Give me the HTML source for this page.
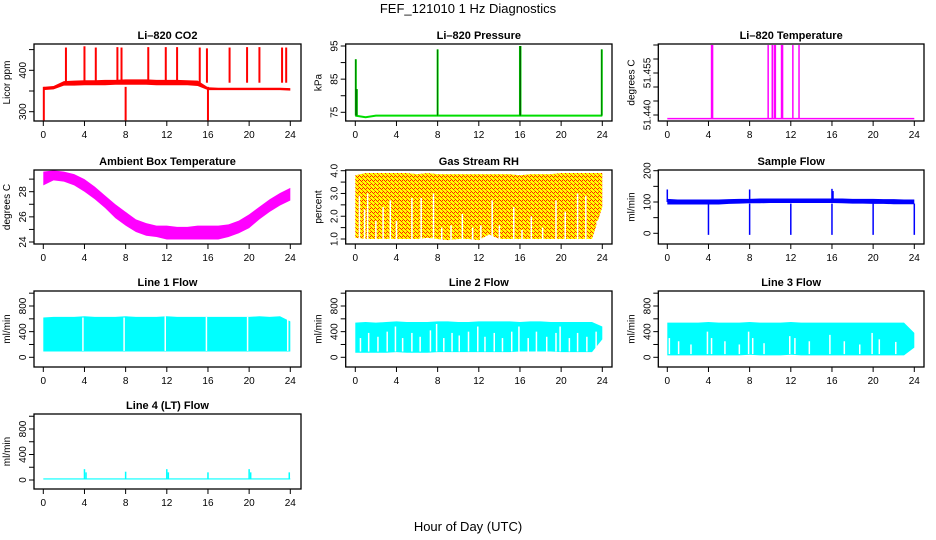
<!DOCTYPE html>
<html><head><meta charset="utf-8"><style>
body{margin:0;background:#fff}
svg{display:block;font-family:"Liberation Sans",sans-serif}
</style></head><body>
<svg id="c" width="936" height="540" viewBox="0 0 936 540">
<defs>
<pattern id="rh" width="4" height="4" patternUnits="userSpaceOnUse">
<rect width="4" height="4" fill="#ffff00"/>
<rect x="0" y="0" width="1" height="1" fill="#ff2000"/>
<rect x="2" y="0" width="1" height="1" fill="#ff2000"/>
<rect x="1" y="1" width="1" height="1" fill="#ff2000"/>
<rect x="3" y="3" width="1" height="1" fill="#ff2000"/>
<rect x="2" y="2" width="1" height="1" fill="#ff8000"/>
</pattern>
</defs>
<text x="468" y="13" font-size="13" text-anchor="middle">FEF_121010  1 Hz Diagnostics</text>
<text x="468" y="531" font-size="13" text-anchor="middle">Hour of Day (UTC)</text>
</svg>
<script>
// ---- data ----
const hours = [0,1,2,3,4,5,6,7,8,9,10,11,12,13,14,15,16,17,18,19,20,21,22,23,24];
const xTicks = [0,4,8,12,16,20,24];
const co2Lo = [352,354,363,363,364,364,364,365,365,365,365,364,364,364,364,362,352,352,352,352,352,352,352,352,351];
const co2Hi = [360,362,374,375,376,376,377,377,378,378,378,377,377,377,376,375,359,358,358,358,358,358,358,358,357];
const co2SpikeH = [2.2,4.0,5.1,7.2,7.6,10.2,11.9,13.0,15.2,15.9,18.1,19.8,21.0,23.2,23.6];
const co2SpikeV = [455,458,455,456,455,456,456,456,455,453,455,456,456,455,455];
const co2DipH = [0.05,8.0,16.0];
const co2DipV = [279,279,279];
const presBase = [74,73.5,74,74,74,74,74,74,74,74,74,74,74,74,74,74,74,74,74,74,74,74,74,74,74];
const presSpikeH = [0.05,0.15,8.0,16.0,16.05,23.95];
const presSpikeV = [91,82,94,95,95,94];
const tempBase = 51.4387;
const tempSpikeH = [4.3,4.4,9.8,10.2,10.4,10.5,11.1,11.2,12.2,12.8];
const tempSpikeV = [51.465,51.465,51.465,51.465,51.465,51.465,51.465,51.465,51.465,51.465];
const ambLo = [28.5,28.9,28.8,28.5,28.0,27.4,26.7,25.9,25.3,24.8,24.5,24.4,24.2,24.2,24.2,24.2,24.2,24.2,24.4,24.7,25.1,25.8,26.4,26.9,27.3];
const ambHi = [29.6,29.7,29.6,29.4,29.0,28.4,27.7,27.0,26.4,25.8,25.5,25.3,25.3,25.2,25.2,25.3,25.3,25.3,25.4,25.7,26.2,26.8,27.4,27.9,28.3];
const rhLo = [1.05,1.0,1.0,1.0,1.0,1.0,1.0,1.05,1.0,0.95,1.0,1.0,0.95,1.2,1.0,1.0,1.0,1.0,1.0,1.0,1.0,1.0,1.0,1.0,2.4];
const rhHi = [3.8,3.9,3.9,3.9,3.9,3.9,3.85,3.9,3.85,3.85,3.85,3.85,3.85,3.85,3.85,3.85,3.8,3.85,3.85,3.85,3.9,3.9,3.9,3.9,3.9];
const rhGapH = [0.4,0.9,1.2,2.0,2.7,3.4,4.0,5.5,6.4,7.6,8.4,9.3,10.4,11.4,12.2,13.3,14.0,15.4,16.2,17.1,18.2,19.5,20.4,21.6,22.4,23.5];
const rhGapV = [2.9,2.3,3.0,1.8,2.4,2.7,1.8,2.8,2.8,3.0,1.5,1.6,2.1,1.5,1.6,2.7,1.6,2.4,1.4,2.0,1.5,2.7,2.2,3.0,2.9,1.8];
const sfLo = [92,92,92,92,92,92,94,95,96,96,97,97,97,97,97,97,97,96,95,95,94,94,93,93,93];
const sfHi = [110,108,108,108,108,108,109,110,110,111,111,111,111,111,111,111,111,111,110,110,110,109,109,108,108];
const sfSpikeH = [0.0,8.0,16.0,16.1];
const sfSpikeV = [140,140,142,135];
const sfDipH = [4.0,8.0,12.0,16.0,20.0,24.0];
const sfDipV = [-5,-5,-5,-5,-5,-5];
const l1Lo = [90,90,90,90,90,90,90,90,90,90,90,90,90,90,90,90,90,90,90,90,90,90,90,90,90];
const l1Hi = [620,630,630,630,640,630,630,630,640,630,630,630,640,630,630,630,630,630,630,630,630,640,630,640,560];
const l1GapH = [3.85,7.85,11.85,15.85,19.85,23.75];
const l1GapV = [620,620,640,630,630,640];
const l2Lo = [70,70,70,70,80,70,70,70,80,80,80,80,80,80,80,80,90,90,90,90,80,80,80,80,280];
const l2Hi = [540,550,540,550,560,550,550,550,560,560,550,550,560,560,560,560,550,560,560,550,550,550,550,550,480];
const l2GapH = [0.5,1.3,2.2,3.1,3.9,4.6,5.5,6.3,7.3,7.9,8.6,9.4,10.1,11.0,11.9,12.6,13.5,14.3,15.2,15.9,16.8,17.6,18.6,19.5,19.9,20.8,21.6,22.5,23.4];
const l2GapV = [300,380,320,400,480,300,380,320,420,520,300,380,340,400,480,320,380,300,400,480,300,400,320,380,480,300,380,320,400];
const l3Lo = [30,30,30,30,30,30,30,30,40,30,30,30,40,30,30,30,30,30,30,30,30,30,30,30,150];
const l3Hi = [540,540,540,540,550,540,540,540,550,540,540,540,550,540,540,540,540,540,540,540,540,540,540,540,380];
const l3GapH = [0.2,1.1,2.3,3.9,4.3,5.6,7.0,7.9,8.3,9.4,11.9,12.4,13.8,15.8,17.2,18.7,19.9,20.6,22.2];
const l3GapV = [300,250,200,400,300,250,200,400,300,220,330,300,250,350,250,200,380,280,240];
const l4Lo = [8,8,8,8,8,8,8,8,8,8,8,8,8,8,8,8,8,8,8,8,8,8,8,8,8];
const l4Hi = [25,25,25,25,25,25,25,25,25,25,25,25,25,25,25,25,25,25,25,25,25,25,25,25,25];
const l4SpikeH = [4.0,4.15,8.0,12.0,12.15,16.0,20.0,20.15,23.9];
const l4SpikeV = [170,120,130,170,120,120,170,120,120];

// ---- layout ----
const NS = "http://www.w3.org/2000/svg";
const svg = document.getElementById("c");
const cols = [{l:34,r:301,x0:43.3},{l:345.7,r:612,x0:355.3},{l:658.3,r:924,x0:667.3}];
const rows = [{t:44,b:121},{t:170,b:244},{t:291,b:367},{t:414,b:489}];
const HPX = 247/24;
function mk(tag, attrs, parent){
  const e = document.createElementNS(NS, tag);
  for (const k in attrs) e.setAttribute(k, attrs[k]);
  (parent||svg).appendChild(e); return e;
}
function panel(name, title, ylab, ci, ri, yA, vA, yB, vB, ticks, labels){
  const c = cols[ci], r = rows[ri];
  const g = mk("g", {});
  
  
  const xs = h => c.x0 + h*HPX;
  const ys = v => yA + (v - vA)*(yB - yA)/(vB - vA);
  const plot = mk("g", {}, g);
  
  
  const frame = mk("rect", {x:c.l, y:r.t, width:c.r-c.l, height:r.b-r.t, fill:"none", stroke:"#000", "stroke-width":1.3}, g);
  
  
  const t = mk("text", {x:(c.l+c.r)/2, y:r.t-5, "font-size":11, "font-weight":"bold", "text-anchor":"middle"}, g);
  t.textContent = title;
  
  
  const yl = mk("text", {transform:`translate(${c.l-24},${(r.t+r.b)/2}) rotate(-90)`, "font-size":10, "text-anchor":"middle"}, g);
  yl.textContent = ylab;
  
  
  mk("line", {x1:xs(0), x2:xs(24), y1:r.b, y2:r.b, stroke:"#000"}, g);
  xTicks.forEach(h => {
    mk("line", {x1:xs(h), x2:xs(h), y1:r.b, y2:r.b+5, stroke:"#000"}, g);
    const tl = mk("text", {x:xs(h), y:r.b+17, "font-size":10, "text-anchor":"middle"}, g);
    tl.textContent = h;
    
    
  });
  ticks.forEach(v => {
    mk("line", {x1:c.l-5, x2:c.l, y1:ys(v), y2:ys(v), stroke:"#000"}, g);
  });
  labels.forEach(([v, s]) => {
    const tl = mk("text", {transform:`translate(${c.l-8},${ys(v)}) rotate(-90)`, "font-size":10, "text-anchor":"middle"}, g);
    tl.textContent = s;
    
    
  });
  return {xs, ys, g:plot};
}
function band(p, lo, hi, fill){
  let pts = hours.map((h,i) => `${p.xs(h)},${p.ys(hi[i])}`);
  pts = pts.concat(hours.slice().reverse().map((h,j) => { const i = hours.length-1-j; return `${p.xs(h)},${p.ys(lo[i])}`; }));
  const e = mk("polygon", {points:pts.join(" "), fill:fill}, p.g);
  
  
}
function vlines(p, hs, vs, base, color, w){
  hs.forEach((h,i) => {
    const e = mk("line", {x1:p.xs(h), x2:p.xs(h), y1:p.ys(base), y2:p.ys(vs[i]), stroke:color, "stroke-width":w||1.5}, p.g);
    
    
  });
}
function line(p, vals, color, w){
  const e = mk("polyline", {points:hours.map((h,i)=>`${p.xs(h)},${p.ys(vals[i])}`).join(" "), fill:"none", stroke:color, "stroke-width":w}, p.g);
  
  
}

let p = panel("co2-panel","Li\u2013820 CO2","Licor ppm",0,0,111.7,300,70.3,400,[300,350,400,450],[[300,"300"],[400,"400"]]);
band(p, co2Lo, co2Hi, "#ff0000");
vlines(p, co2SpikeH, co2SpikeV, 370, "#ff0000", 2);
vlines(p, co2DipH, co2DipV, 360, "#ff0000", 2);

p = panel("pressure-panel","Li\u2013820 Pressure","kPa",1,0,112.3,75,46,95,[75,80,85,90,95],[[75,"75"],[85,"85"],[95,"95"]]);
line(p, presBase, "#00dd00", 2);
vlines(p, presSpikeH, presSpikeV, 74, "#00dd00", 2);
vlines(p, presSpikeH, presSpikeV, 74, "#003300", 0.6);

p = panel("licor-temp-panel","Li\u2013820 Temperature","degrees C",2,0,115,51.44,73,51.455,[51.44,51.445,51.45,51.455,51.46,51.465],[[51.44,"51.440"],[51.455,"51.455"]]);
line(p, hours.map(()=>tempBase), "#ff00ff", 1.5);
vlines(p, tempSpikeH, tempSpikeV, tempBase, "#ff00ff", 1.5);

p = panel("ambient-temp-panel","Ambient Box Temperature","degrees C",0,1,242,24,191.7,28,[24,25,26,27,28,29],[[24,"24"],[26,"26"],[28,"28"]]);
band(p, ambLo, ambHi, "#ff00ff");

p = panel("rh-panel","Gas Stream RH","percent",1,1,239,1,170.7,4,[1,1.5,2,2.5,3,3.5,4],[[1,"1.0"],[2,"2.0"],[3,"3.0"],[4,"4.0"]]);
band(p, rhLo, rhHi, "url(#rh)");
vlines(p, rhGapH, rhGapV, 0.9, "#ffffff", 1.5);

p = panel("sample-flow-panel","Sample Flow","ml/min",2,1,233.3,0,170.7,200,[0,50,100,150,200],[[0,"0"],[100,"100"],[200,"200"]]);
band(p, sfLo, sfHi, "#0000ff");
vlines(p, sfSpikeH, sfSpikeV, 100, "#0000ff", 1.5);
vlines(p, sfDipH, sfDipV, 95, "#0000ff", 1.5);
const fT = [0,200,400,600,800,1000], fL = [[0,"0"],[400,"400"],[800,"800"]];

p = panel("line1-flow-panel","Line 1 Flow","ml/min",0,2,357.3,0,306,800,fT,fL);
band(p, l1Lo, l1Hi, "#00ffff");
vlines(p, l1GapH, l1GapV, 100, "#ffffff", 1.5);

p = panel("line2-flow-panel","Line 2 Flow","ml/min",1,2,357.3,0,306,800,fT,fL);
band(p, l2Lo, l2Hi, "#00ffff");
vlines(p, l2GapH, l2GapV, 90, "#ffffff", 1.5);

p = panel("line3-flow-panel","Line 3 Flow","ml/min",2,2,357.3,0,306,800,fT,fL);
band(p, l3Lo, l3Hi, "#00ffff");
vlines(p, l3GapH, l3GapV, 50, "#ffffff", 1.5);

p = panel("line4-flow-panel","Line 4 (LT) Flow","ml/min",0,3,480,0,429,800,fT,fL);
band(p, l4Lo, l4Hi, "#00ffff");
vlines(p, l4SpikeH, l4SpikeV, 20, "#00ffff", 1.5);
</script>
</body></html>
